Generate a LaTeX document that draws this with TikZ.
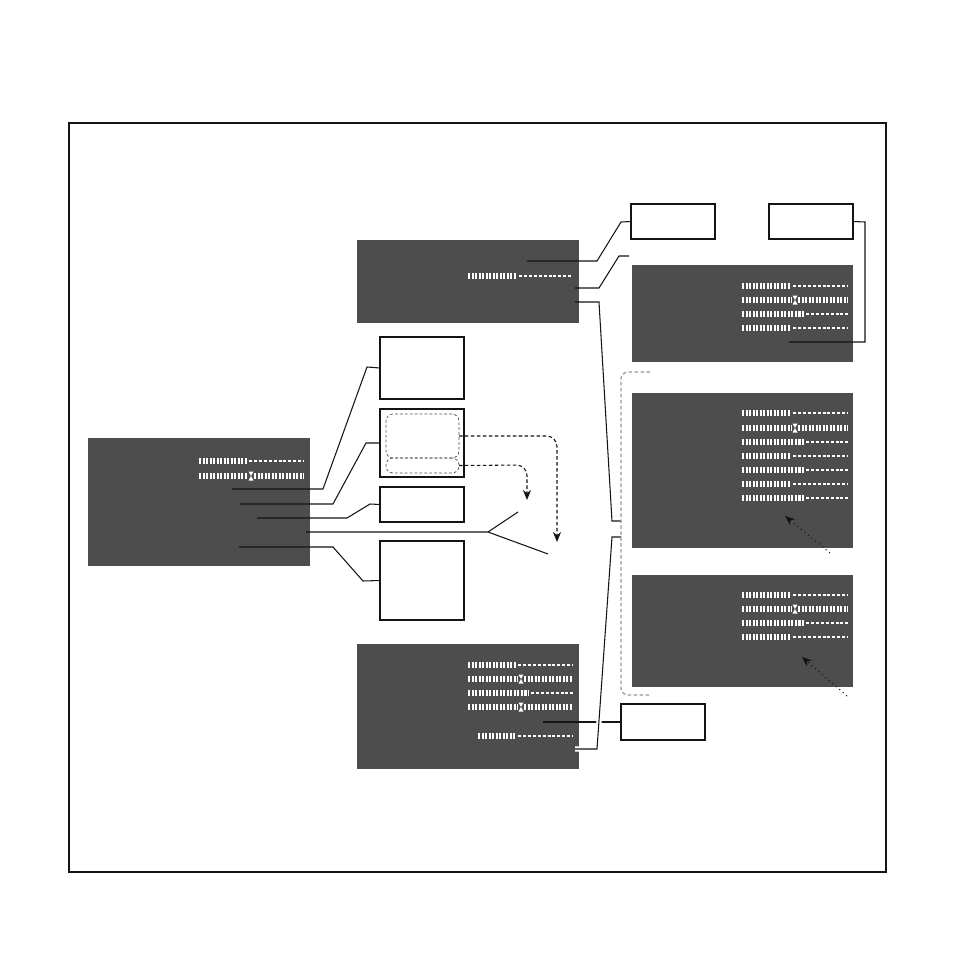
\documentclass[tikz,border=0pt]{standalone}
\usetikzlibrary{arrows.meta,fit}
\definecolor{slate}{RGB}{77,77,77}
\definecolor{fog}{RGB}{150,150,150}
\definecolor{ink}{RGB}{20,20,20}
\tikzset{
  >={Stealth[length=2mm,width=1.6mm]},
  panel/.style={fill=slate,inner sep=0pt,outer sep=0pt},
  frame/.style={draw=ink,line width=0.8pt,inner sep=0pt,outer sep=0pt},
  inset/.style={draw=ink!75,dashed,dash pattern=on 1.6pt off 1.2pt,rounded corners=4pt,inner sep=0pt,outer sep=0pt},
  link/.style={draw=ink,line width=0.6pt},
  hint/.style={->,draw=ink,line width=0.6pt,dash pattern=on 2pt off 1.4pt,rounded corners=6pt},
  pointer/.style={->,draw=ink,line width=0.6pt,dotted},
  bracket/.style={draw=fog,line width=0.7pt,dash pattern=on 2pt off 1.4pt,rounded corners=4pt},
  % glyph rows
  glyphs/.style={draw=white,line width=3.6pt,dash pattern=on 1.3pt off 0.7pt},
  trail/.style={draw=white,line width=1.3pt,dash pattern=on 1.7pt off 1.1pt},
}
% row of bars followed by a dotted tail: y, start, break, end
\newcommand\glyphrow[4]{%
  \draw[glyphs] (#2,#1) -- (#3,#1);
  \draw[trail] (#3+2,#1) -- (#4,#1);}
% row of bars with a cursor mark: y, start, mark, end
\newcommand\cursorrow[4]{%
  \draw[glyphs] (#2,#1) -- (#3-3,#1);
  \draw[glyphs] (#3+3,#1) -- (#4,#1);
  \fill[white] (#3-2.5,#1-4.5) -- (#3+2.5,#1-4.5) -- (#3-2.5,#1+4.5) -- (#3+2.5,#1+4.5) -- cycle;}

\begin{document}
\begin{tikzpicture}[x=0.02cm,y=-0.02cm]
  \useasboundingbox (0,0) rectangle (954,954);
  \node[frame,line width=0.6pt,fit={(69,123) (886,872)}] (page) {};

  % dark panels
  \node[panel,fit={(88,438) (310,566)}] (main) {};
  \node[panel,fit={(357,240) (579,323)}] (top) {};
  \node[panel,fit={(357,644) (579,769)}] (low) {};
  \node[panel,fit={(632,265) (853,362)}] (east1) {};
  \node[panel,fit={(632,393) (853,548)}] (east2) {};
  \node[panel,fit={(632,575) (853,687)}] (east3) {};

  % white boxes
  \node[frame,fit={(380,337) (464,399)}] (boxA) {};
  \node[frame,fit={(380,409) (464,477)}] (boxB) {};
  \node[inset,fit={(386,414) (459,458)}] (boxB1) {};
  \node[inset,fit={(386,458) (459,473)}] (boxB2) {};
  \node[frame,fit={(380,487) (464,522)}] (boxC) {};
  \node[frame,fit={(380,541) (464,620)}] (boxD) {};
  \node[frame,fit={(631,204) (715,239)}] (boxE) {};
  \node[frame,fit={(769,204) (853,239)}] (boxH) {};
  \node[frame,fit={(621,704) (705,740)}] (boxG) {};

  % glyph rows
  \glyphrow{461}{199}{247}{304}
  \cursorrow{476}{199}{251}{304}
  \glyphrow{276}{468}{517}{573}
  \glyphrow{665}{468}{516}{573}
  \cursorrow{679}{468}{521}{573}
  \glyphrow{693}{468}{529}{573}
  \cursorrow{707}{468}{521}{573}
  \glyphrow{736}{478}{516}{573}
  \foreach \y/\b in {286/791,314/804,328/791} {\glyphrow{\y}{742}{\b}{848}}
  \cursorrow{300}{742}{795}{848}
  \foreach \y/\b in {413/791,442/804,456/791,470/804,484/791,498/804} {\glyphrow{\y}{742}{\b}{848}}
  \cursorrow{428}{742}{795}{848}
  \foreach \y/\b in {595/791,623/804,637/791} {\glyphrow{\y}{742}{\b}{848}}
  \cursorrow{609}{742}{795}{848}

  % connector ends
  \coordinate (m1) at (232,489);
  \coordinate (m2) at (240,504);
  \coordinate (m3) at (257,518);
  \coordinate (m4) at (306,532);
  \coordinate (m5) at (239,547);
  \coordinate (fork) at (488,532);
  \coordinate (f1) at (518,512);
  \coordinate (f2) at (548,554);
  \coordinate (t1) at (527,261);
  \coordinate (t2) at (575,288);
  \coordinate (t2end) at (629,256);
  \coordinate (t3) at (575,302);
  \coordinate (t3end) at (621,521);
  \coordinate (l1) at (543,722);
  \coordinate (l2) at (575,749);
  \coordinate (l2end) at (621,537);
  \coordinate (e1) at (789,342);
  \coordinate (hB1) at (557,542);
  \coordinate (hB2) at (527,500);

  % connectors
  \draw[link] (m1) -- (323,489) -- (367,367) -- (boxA.west);
  \draw[link] (m2) -- (333,504) -- (366,443) -- (boxB.west);
  \draw[link] (m3) -- (347,518) -- (370,504) -- (boxC.west);
  \draw[link] (m4) -- (fork) -- (f1);
  \draw[link] (fork) -- (f2);
  \draw[link] (m5) -- (333,547) -- (363,581) -- (boxD.west);
  \draw[link] (t1) -- (597,261) -- (621,222) -- (boxE.west);
  \draw[link] (t2) -- (599,288) -- (619,256) -- (t2end);
  \draw[link] (t3) -- (599,302) -- (612,521) -- (t3end);
  \draw[link] (l1) -- (boxG.west);
  \draw[link,preaction={draw=white,line width=3pt}] (l2) -- (597,749) -- (612,537) -- (l2end);
  \draw[link] (e1) -- (865,342) -- (865,222) -- (boxH.east);

  \draw[hint] (boxB1.east) -- (557,436) -- (hB1);
  \draw[hint] (boxB2.east) -- (527,465) -- (hB2);
  \draw[bracket] (650,372) -- (621,372) -- (621,695) -- (651,695);

  \draw[pointer] (830,553) -- (785,516);
  \draw[pointer] (847,696) -- (802,657);
\end{tikzpicture}
\end{document}
